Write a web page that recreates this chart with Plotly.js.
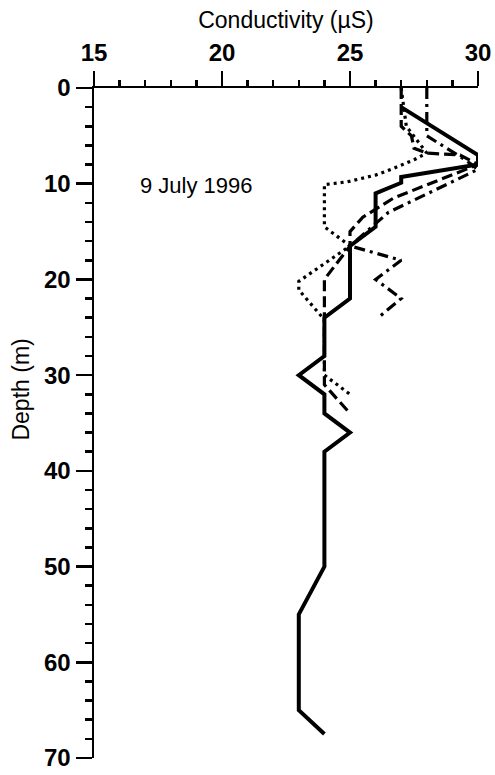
<!DOCTYPE html>
<html>
<head>
<meta charset="utf-8">
<script src="https://cdn.plot.ly/plotly-3.0.1.min.js"></script>
<style>html,body{margin:0;padding:0;background:#fff;}#chart{width:495px;height:775px;}</style>
</head>
<body>
<div id="chart"></div>
<script>
// Conductivity (uS) vs depth (m), 9 July 1996
const solidDepth = [2, 7, 8, 9.3, 9.9, 11, 14.5, 16.5, 22, 24, 28, 30, 32, 34, 36, 38, 50, 55, 65, 67.5];
const solidCond  = [27, 30, 30, 27, 27, 26, 26, 25, 25, 24, 24, 23, 24, 24, 25, 24, 24, 23, 23, 24];

const dashDepth = [0, 4, 5, 6.3, 6.8, 7, 8, 11.5, 13.5, 15, 16.5, 20, 24, 31, 34];
const dashCond  = [27, 27, 27.4, 27.5, 28, 29.3, 30, 26.7, 25.5, 25, 25, 24, 24, 24, 25];

const dashDotDepth = [0, 5, 7.5, 8.5, 13, 16.5, 18, 20, 22, 24];
const dashDotCond  = [28, 28, 29.5, 30, 26.5, 25, 27, 26, 27, 26.1];

const dotDepth = [0, 4, 6.8, 7.5, 8.4, 9.1, 9.8, 10.1, 14.5, 16.5, 20.2, 21.1, 24.2, 30, 32];
const dotCond  = [27, 27.2, 28, 27.5, 26.7, 26, 24.9, 24, 24, 25, 23, 23, 24, 24, 25];

const xTicks = [15, 20, 25, 30];
const yTicks = [0, 10, 20, 30, 40, 50, 60, 70];

const fontFam = 'Liberation Sans, Arial, Helvetica, sans-serif';

const traces = [
  {x: dotCond, y: dotDepth, mode: 'lines', line: {color: '#000', width: 3.2, dash: '3px,4px'}, hoverinfo: 'skip'},
  {x: dashCond, y: dashDepth, mode: 'lines', line: {color: '#000', width: 3.2, dash: '11px,5px'}, hoverinfo: 'skip'},
  {x: dashDotCond, y: dashDotDepth, mode: 'lines', line: {color: '#000', width: 3.2, dash: '11px,5px,3px,5px'}, hoverinfo: 'skip'},
  {x: solidCond, y: solidDepth, mode: 'lines', line: {color: '#000', width: 4}, hoverinfo: 'skip'}
];

const layout = {
  width: 495, height: 775,
  margin: {l: 94, r: 17, t: 88, b: 17},
  paper_bgcolor: '#fff', plot_bgcolor: '#fff',
  showlegend: false,
  xaxis: {
    side: 'top', range: [15, 30], tickvals: xTicks, ticktext: xTicks.map(String),
    ticks: 'outside', ticklen: 15, tickwidth: 2.5, tickcolor: '#000',
    minor: {dtick: 1, ticks: 'outside', ticklen: 6, tickwidth: 2.5, tickcolor: '#000'},
    showline: true, linewidth: 2.5, linecolor: '#000', showgrid: false, zeroline: false,
    tickfont: {family: fontFam, size: 24, color: '#000', weight: 'bold'},
    title: {text: 'Conductivity (µS)', font: {family: fontFam, size: 23, color: '#000'}, standoff: 4}
  },
  yaxis: {
    range: [70, 0], tickvals: yTicks, ticktext: yTicks.map(String),
    ticks: 'outside', ticklen: 16, tickwidth: 2.5, tickcolor: '#000',
    minor: {dtick: 2, ticks: 'outside', ticklen: 7, tickwidth: 2.5, tickcolor: '#000'},
    showline: true, linewidth: 2.5, linecolor: '#000', showgrid: false, zeroline: false,
    tickfont: {family: fontFam, size: 24, color: '#000', weight: 'bold'}
  },
  annotations: [
    {text: 'Depth (m)', textangle: -90, xref: 'paper', yref: 'paper', x: -0.19, y: 0.55,
     xanchor: 'center', yanchor: 'middle', showarrow: false,
     font: {family: fontFam, size: 23, color: '#000'}},
    {text: '9 July 1996', xref: 'x', yref: 'y', x: 19, y: 10.2, xanchor: 'center', yanchor: 'middle',
     showarrow: false, font: {family: fontFam, size: 22, color: '#000'}}
  ]
};

Plotly.newPlot('chart', traces, layout, {staticPlot: true, displayModeBar: false});
</script>
</body>
</html>
